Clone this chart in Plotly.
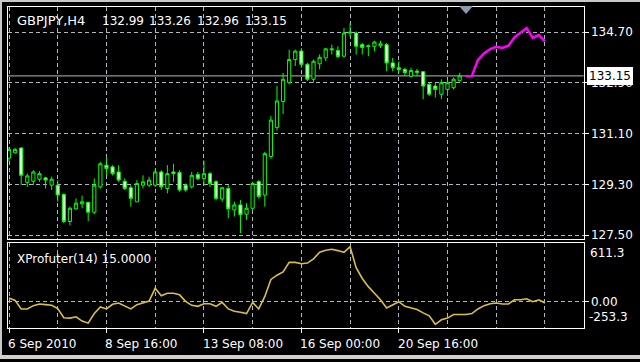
import plotly.graph_objects as go

# ---------------- data ----------------
symbol = "GBPJPY,H4"
opens = [130.23, 130.42, 130.59, 129.37, 129.41, 129.48, 129.53, 129.27, 129.27, 128.94,
         127.98, 128.43, 128.61, 128.66, 128.31, 129.21, 129.98, 129.92, 129.74, 129.41,
         129.18, 128.68, 129.27, 129.27, 129.27, 129.74, 129.15, 129.74, 129.72, 129.27,
         129.21, 129.65, 129.51, 129.68, 129.39, 128.78, 129.15, 128.39, 128.57, 128.24,
         128.45, 129.40, 128.92, 130.29, 131.32, 132.24, 132.91, 133.73, 134.03, 133.56,
         133.03, 133.58, 133.79, 134.11, 134.05, 133.85, 134.67, 134.67, 134.26, 134.19,
         134.20, 134.22, 134.26, 133.61, 133.44, 133.38, 133.14, 133.32, 133.30, 132.85,
         132.79, 132.50, 132.67, 132.73, 132.99]
highs = [130.62, 130.59, 130.62, 129.68, 129.80, 129.77, 129.57, 129.57, 129.45, 128.98,
         128.51, 128.80, 128.90, 128.68, 129.51, 130.09, 130.27, 129.98, 129.98, 129.51,
         129.27, 129.45, 129.62, 129.57, 129.84, 129.80, 129.98, 130.03, 129.80, 129.33,
         129.74, 129.74, 130.15, 129.74, 129.45, 129.21, 129.27, 128.68, 128.74, 128.63,
         129.39, 129.45, 130.45, 131.73, 132.79, 133.26, 134.08, 134.08, 134.14, 133.61,
         133.73, 133.91, 134.14, 134.26, 134.20, 134.85, 135.02, 134.73, 134.32, 134.26,
         134.40, 134.40, 134.32, 133.79, 133.67, 133.44, 133.44, 133.40, 133.32, 132.91,
         132.91, 133.03, 133.00, 133.09, 133.26]
lows = [130.12, 130.39, 129.27, 129.21, 129.27, 129.39, 129.15, 129.10, 128.68, 127.92,
        127.84, 128.39, 128.45, 128.00, 128.24, 129.15, 129.62, 129.62, 129.39, 129.10,
        128.51, 128.68, 129.15, 129.21, 129.21, 129.10, 128.98, 129.39, 129.04, 129.04,
        129.15, 129.45, 129.27, 129.21, 128.74, 128.68, 128.10, 128.16, 127.57, 128.04,
        128.39, 128.80, 128.51, 130.21, 131.21, 131.79, 132.85, 133.50, 133.44, 132.97,
        132.91, 133.38, 133.67, 133.91, 133.79, 133.80, 134.55, 133.91, 133.91, 133.85,
        134.03, 134.14, 133.32, 133.32, 133.26, 133.14, 133.09, 133.14, 132.32, 132.44,
        132.38, 132.32, 132.44, 132.67, 132.96]
closes = [130.54, 130.54, 129.62, 129.60, 129.74, 129.68, 129.45, 129.48, 128.92, 127.98,
          128.45, 128.63, 128.68, 128.31, 129.27, 130.03, 129.86, 129.68, 129.45, 129.15,
          128.80, 129.33, 129.39, 129.45, 129.74, 129.21, 129.68, 129.68, 129.10, 129.10,
          129.62, 129.50, 129.68, 129.33, 128.80, 129.18, 128.43, 128.57, 128.22, 128.45,
          129.33, 128.87, 130.39, 131.58, 132.26, 133.03, 133.73, 134.03, 133.56, 133.03,
          133.67, 133.81, 134.11, 134.08, 133.84, 134.67, 134.70, 134.20, 134.16, 134.22,
          134.35, 134.29, 133.61, 133.44, 133.38, 133.27, 133.34, 133.28, 132.79, 132.50,
          132.67, 132.91, 132.91, 133.03, 133.15]

forecast_start = 75
forecast = [133.14, 133.15, 133.72, 133.95, 134.10, 134.18, 134.14, 134.22,
            134.52, 134.68, 134.85, 134.50, 134.60, 134.38]

indicator_name = "XProfuter(14) 15.0000"
xprofuter = [38.6, 13.1, -81.8, -81.8, -45.3, -27.1, -34.4, -41.7, -78.1, -180.3,
             -183.9, -169.3, -216.8, -240.0, -132.9, -59.9, -81.8, -30.7, -16.1, -45.3,
             -81.8, -34.4, -12.5, 5.8, 148.0, 64.1, 93.3, 93.3, 75.1, 2.1,
             -41.7, -52.6, -23.4, -23.4, -52.6, -8.8, -81.8, -107.3, -118.3, -132.9,
             -8.8, -81.8, 56.8, 246.5, 294.0, 330.4, 436.0, 436.2, 421.6, 428.9,
             476.4, 549.3, 571.2, 582.2, 567.6, 549.3, 611.3, 377.9, 257.5, 166.3,
             93.3, 20.4, -70.8, -34.4, -1.5, -52.6, -70.8, -89.1, -125.6, -158.4,
             -253.3, -202.2, -183.9, -143.8, -143.8, -143.8, -132.9, -81.8, -45.3, -23.4,
             -16.1, -27.1, -27.1, 20.4, 20.4, 31.3, -1.5, 20.4, -16.1]

date_tick_idx = [0, 16, 32, 48, 64]
date_tick_text = ["6 Sep 2010", "8 Sep 16:00", "13 Sep 08:00", "16 Sep 00:00", "20 Sep 16:00"]
price_ticks = [134.70, 132.90, 131.10, 129.30, 127.50]

# ---------------- styling ----------------
W, H = 640, 362
FONT = "DejaVu Sans"
GRID = "#aeb7c2"
DASH = "4px,3px"
LIME = "#00ff00"

bars = list(range(len(opens)))
fx = list(range(forecast_start, forecast_start + len(forecast)))
ix = list(range(len(xprofuter)))

def px_x(p):
    return p / W

def px_y(p):
    return 1 - p / H

xdom = [px_x(7.5), px_x(583.5)]
xrange_ = [-0.25, 94.33]

fig = go.Figure()
fig.add_trace(go.Candlestick(
    x=bars, open=opens, high=highs, low=lows, close=closes,
    xaxis="x", yaxis="y",
    increasing=dict(line=dict(color=LIME, width=1), fillcolor="#000000"),
    decreasing=dict(line=dict(color=LIME, width=1), fillcolor="#d8ffd8"),
    whiskerwidth=0, hoverinfo="skip",
))
fig.add_trace(go.Scatter(x=fx, y=forecast, mode="lines", xaxis="x", yaxis="y",
                         line=dict(color="#ff00ff", width=2.5), hoverinfo="skip"))
fig.add_trace(go.Scatter(x=ix, y=xprofuter, mode="lines", xaxis="x2", yaxis="y2",
                         line=dict(color="#d8c040", width=1.6), hoverinfo="skip"))

ind_max, ind_min = max(xprofuter), min(xprofuter)

annotations = []
# header line of the price pane
header = [symbol] + [f"{v:.2f}" for v in (opens[-1], highs[-1], lows[-1], closes[-1])]
header_x = [15, 100, 147, 195, 243]
header_size = [13, 12, 12, 12, 12]
for t, xp, fs in zip(header, header_x, header_size):
    annotations.append(dict(text=t, x=px_x(xp), y=px_y(21), xref="paper", yref="paper",
                            xanchor="left", yanchor="middle", showarrow=False,
                            font=dict(family=FONT, size=fs, color="#ffffff")))
annotations.append(dict(text=indicator_name, x=px_x(15), y=px_y(261), xref="paper", yref="paper",
                        xanchor="left", yanchor="middle", showarrow=False,
                        font=dict(family=FONT, size=12, color="#ffffff")))
# indicator scale labels
annotations.append(dict(text=f"{ind_max:.1f}", x=px_x(588), y=ind_max, xref="paper", yref="y2",
                        xanchor="left", yanchor="middle", yshift=-6, showarrow=False,
                        font=dict(family=FONT, size=12, color="#ffffff")))
annotations.append(dict(text=f"{ind_min:.1f}", x=px_x(587), y=ind_min, xref="paper", yref="y2",
                        xanchor="left", yanchor="middle", yshift=7, showarrow=False,
                        font=dict(family=FONT, size=12, color="#ffffff")))
# current price box
annotations.append(dict(text=f"{closes[-1]:.2f}", x=px_x(587), y=closes[-1], xref="paper", yref="y",
                        xanchor="left", yanchor="middle", showarrow=False,
                        bgcolor="#ffffff", bordercolor="#ffffff", borderwidth=1, borderpad=1,
                        font=dict(family=FONT, size=12, color="#000000")))
# date labels
for xi, t in zip(date_tick_idx, date_tick_text):
    annotations.append(dict(text=t, x=xi, y=px_y(347), xref="x2", yref="paper",
                            xanchor="left", yanchor="middle", xshift=-3, showarrow=False,
                            font=dict(family=FONT, size=12, color="#ffffff")))

shapes = [
    # last price line
    dict(type="line", xref="x domain", yref="y", x0=0, x1=1, y0=closes[-1], y1=closes[-1],
         line=dict(color="#b8b8b8", width=1), layer="below"),
    # chart-shift marker
    dict(type="path", xref="paper", yref="paper",
         path=f"M {px_x(459)} {px_y(6)} L {px_x(473)} {px_y(6)} L {px_x(466)} {px_y(14)} Z",
         fillcolor="#8a9aa8", line=dict(width=0)),
    # window borders
    dict(type="rect", xref="paper", yref="paper", x0=0, x1=1, y0=px_y(2), y1=1,
         fillcolor="#c8c8c8", line=dict(width=0)),
    dict(type="rect", xref="paper", yref="paper", x0=0, x1=px_x(2), y0=0, y1=1,
         fillcolor="#c8c8c8", line=dict(width=0)),
    dict(type="rect", xref="paper", yref="paper", x0=0, x1=1, y0=0, y1=px_y(358),
         fillcolor="#d4d0c8", line=dict(width=0)),
]

axis_common = dict(showline=True, linecolor="#ffffff", linewidth=1, mirror=True,
                   zeroline=False, fixedrange=True)

fig.update_layout(
    width=W, height=H, margin=dict(l=0, r=0, t=0, b=0, pad=0),
    paper_bgcolor="#000000", plot_bgcolor="#000000", showlegend=False,
    font=dict(family=FONT, size=12, color="#ffffff"),
    boxgap=0.25,
    xaxis=dict(domain=xdom, range=xrange_, anchor="y", showticklabels=False, ticks="",
               tickmode="linear", tick0=0, dtick=8,
               showgrid=True, gridcolor=GRID, griddash=DASH, gridwidth=1,
               rangeslider=dict(visible=False), **axis_common),
    yaxis=dict(domain=[px_y(241), px_y(7)], range=[127.359, 135.598], anchor="x", side="right",
               tickmode="array", tickvals=price_ticks, ticktext=[f"{v:.2f}" for v in price_ticks],
               ticks="outside", ticklen=4, tickcolor="#ffffff", tickwidth=1,
               showgrid=True, gridcolor=GRID, griddash=DASH, gridwidth=1,
               tickfont=dict(family=FONT, size=12, color="#ffffff"), **axis_common),
    xaxis2=dict(domain=xdom, range=xrange_, anchor="y2", showticklabels=False,
                tickmode="array", tickvals=date_tick_idx,
                ticks="outside", ticklen=4, tickcolor="#ffffff", tickwidth=1,
                showgrid=True, gridcolor=GRID, griddash=DASH, gridwidth=1,
                minor=dict(tickmode="linear", tick0=0, dtick=8, showgrid=True,
                           gridcolor=GRID, griddash=DASH, gridwidth=1, ticks=""),
                **axis_common),
    yaxis2=dict(domain=[px_y(331), px_y(245.5)], range=[-297, 647], anchor="x2", side="right",
                tickmode="array", tickvals=[0], ticktext=["0.00"],
                ticks="outside", ticklen=4, tickcolor="#ffffff", tickwidth=1,
                showgrid=True, gridcolor=GRID, griddash=DASH, gridwidth=1,
                tickfont=dict(family=FONT, size=12, color="#ffffff"), **axis_common),
    annotations=annotations,
    shapes=shapes,
)

fig.write_html("out.html", config={"displayModeBar": False, "staticPlot": True})
